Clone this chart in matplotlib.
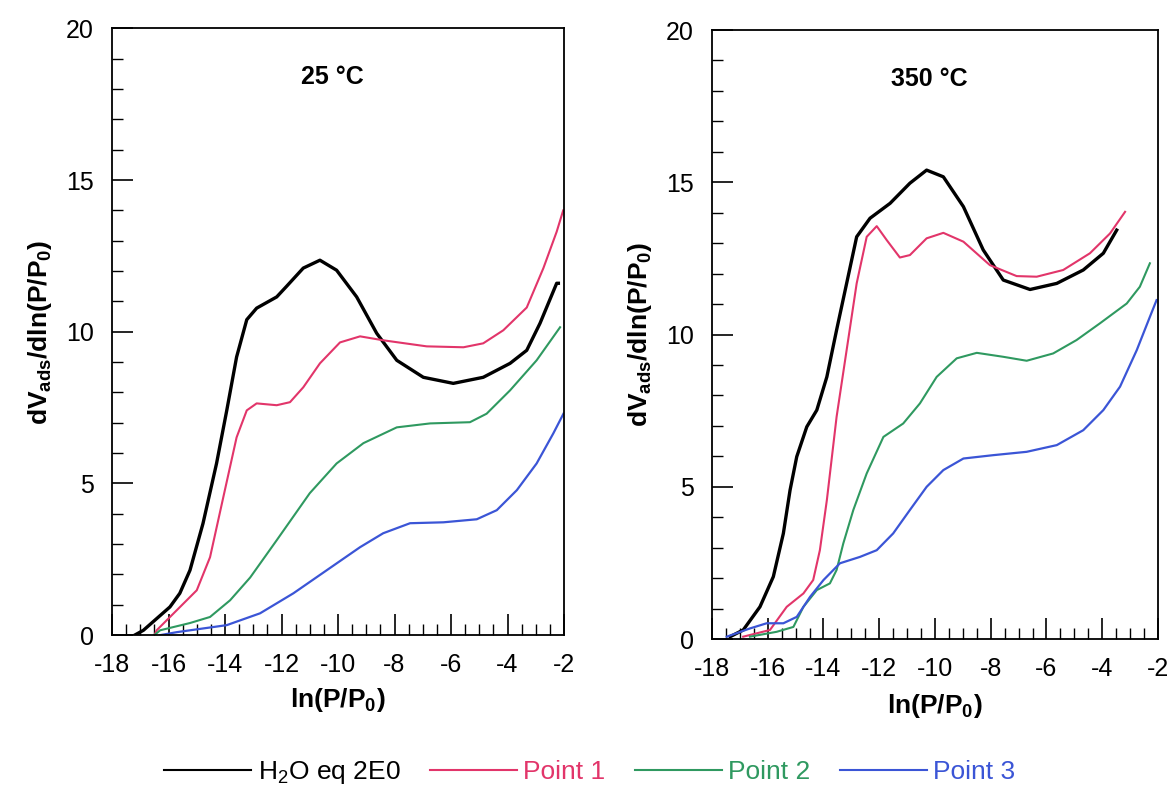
import matplotlib
matplotlib.use("Agg")
import matplotlib.pyplot as plt
from matplotlib.ticker import MultipleLocator

plt.rcParams['font.family'] = ['Liberation Sans', 'DejaVu Sans']
plt.rcParams['axes.unicode_minus'] = False
plt.rcParams['mathtext.fontset'] = 'custom'
plt.rcParams['mathtext.rm'] = 'Liberation Sans'
plt.rcParams['mathtext.bf'] = 'Liberation Sans:bold'

# ---- 25 C panel data ----
x25_h2o = [-17.2, -16.89, -15.95, -15.6, -15.24, -14.78, -14.3, -13.94, -13.59, -13.23, -12.88, -12.17, -11.82, -11.23, -10.64, -10.05, -9.34, -8.63, -7.92, -6.98, -5.92, -4.86, -3.91, -3.32, -2.85, -2.26, -2.2]
y25_h2o = [0.0, 0.16, 0.93, 1.38, 2.14, 3.68, 5.66, 7.4, 9.17, 10.4, 10.78, 11.15, 11.5, 12.1, 12.36, 12.03, 11.15, 9.95, 9.06, 8.5, 8.3, 8.5, 8.96, 9.39, 10.28, 11.6, 11.6]

x25_p1 = [-16.5, -16.42, -15.71, -15.0, -14.53, -14.06, -13.59, -13.23, -12.88, -12.17, -11.7, -11.23, -10.64, -9.93, -9.22, -8.4, -6.86, -5.56, -4.86, -4.15, -3.32, -2.73, -2.26, -2.03]
y25_p1 = [0.0, 0.16, 0.82, 1.48, 2.57, 4.55, 6.52, 7.41, 7.64, 7.58, 7.68, 8.17, 8.96, 9.65, 9.85, 9.72, 9.52, 9.49, 9.62, 10.05, 10.8, 12.1, 13.3, 14.0]

x25_p2 = [-16.5, -16.3, -15.24, -14.53, -13.82, -13.11, -12.17, -11.0, -10.05, -9.1, -7.92, -6.74, -5.33, -4.74, -3.91, -2.97, -2.14]
y25_p2 = [0.0, 0.16, 0.4, 0.6, 1.15, 1.9, 3.13, 4.68, 5.66, 6.33, 6.85, 6.98, 7.02, 7.3, 8.07, 9.06, 10.15]

x25_p3 = [-16.3, -15.7, -13.94, -12.76, -11.58, -10.4, -9.22, -8.4, -7.45, -6.27, -5.09, -4.38, -3.67, -2.97, -2.38, -2.02]
y25_p3 = [0.0, 0.1, 0.33, 0.72, 1.38, 2.14, 2.9, 3.36, 3.69, 3.72, 3.82, 4.12, 4.78, 5.66, 6.65, 7.3]

# ---- 350 C panel data ----
x350_h2o = [-17.35, -16.88, -16.28, -15.8, -15.44, -15.2, -14.96, -14.6, -14.24, -13.88, -13.53, -13.17, -12.81, -12.33, -11.61, -10.9, -10.3, -9.7, -8.98, -8.27, -7.55, -6.59, -5.63, -4.68, -3.96, -3.48]
y350_h2o = [0.08, 0.3, 1.06, 2.05, 3.47, 4.89, 5.99, 6.97, 7.52, 8.61, 10.15, 11.68, 13.21, 13.82, 14.31, 14.97, 15.4, 15.18, 14.2, 12.78, 11.79, 11.48, 11.68, 12.12, 12.67, 13.43]

x350_p1 = [-16.88, -15.92, -15.32, -14.72, -14.37, -14.13, -13.88, -13.53, -13.17, -12.81, -12.45, -12.09, -11.73, -11.26, -10.9, -10.3, -9.7, -8.98, -8.03, -7.07, -6.35, -5.4, -4.44, -3.72, -3.18]
y350_p1 = [0.08, 0.3, 1.06, 1.5, 1.94, 2.92, 4.56, 7.3, 9.49, 11.68, 13.21, 13.56, 13.1, 12.53, 12.61, 13.16, 13.34, 13.05, 12.28, 11.92, 11.9, 12.12, 12.67, 13.32, 14.03]

x350_p2 = [-16.64, -15.68, -15.08, -14.72, -14.24, -13.77, -13.53, -13.29, -12.93, -12.45, -11.85, -11.14, -10.54, -9.94, -9.22, -8.5, -7.55, -6.71, -5.76, -4.92, -4.08, -3.12, -2.65, -2.29]
y350_p2 = [0.08, 0.24, 0.4, 1.06, 1.61, 1.83, 2.27, 3.14, 4.24, 5.44, 6.64, 7.08, 7.74, 8.61, 9.22, 9.4, 9.27, 9.14, 9.38, 9.82, 10.37, 11.02, 11.57, 12.34]

x350_p3 = [-17.47, -16.64, -16.04, -15.44, -14.96, -14.48, -14.0, -13.41, -12.69, -12.09, -11.5, -10.9, -10.3, -9.7, -8.98, -7.91, -6.71, -5.63, -4.68, -3.96, -3.36, -2.76, -2.29, -2.05]
y350_p3 = [0.08, 0.35, 0.52, 0.52, 0.73, 1.39, 1.94, 2.49, 2.7, 2.92, 3.47, 4.24, 5.0, 5.55, 5.93, 6.04, 6.15, 6.37, 6.86, 7.52, 8.29, 9.49, 10.58, 11.13]

labels = ['H$_\\mathrm{2}$O eq 2E0', 'Point 1', 'Point 2', 'Point 3']
colors = ['black', '#e2356a', '#2f9960', '#3b55d6']
widths = [2.4, 1.5, 1.5, 1.6]

fig = plt.figure(figsize=(11.68, 7.9), dpi=100)
ax1 = fig.add_axes([0.0959, 0.196, 0.387, 0.768])
ax2 = fig.add_axes([0.6096, 0.191, 0.3818, 0.771])

panels = [
    (ax1, [(x25_h2o, y25_h2o), (x25_p1, y25_p1), (x25_p2, y25_p2), (x25_p3, y25_p3)], '25 °C', 6),
    (ax2, [(x350_h2o, y350_h2o), (x350_p1, y350_p1), (x350_p2, y350_p2), (x350_p3, y350_p3)], '350 °C', 8),
]

lines = []
for ax, series, title, xpad in panels:
    lines = []
    for (xs, ys), c, lw, lab in zip(series, colors, widths, labels):
        ln, = ax.plot(xs, ys, color=c, lw=lw, label=lab)
        lines.append(ln)
    ax.set_xlim(-18, -2)
    ax.set_ylim(0, 20)
    ax.xaxis.set_major_locator(MultipleLocator(2))
    ax.xaxis.set_minor_locator(MultipleLocator(0.5))
    ax.yaxis.set_major_locator(MultipleLocator(5))
    ax.yaxis.set_minor_locator(MultipleLocator(1))
    ax.tick_params(which='major', direction='in', length=15, width=1.2, labelsize=18, pad=13,
                   top=False, right=False)
    ax.tick_params(which='minor', direction='in', length=8, width=1.0, top=False, right=False)
    for s in ax.spines.values():
        s.set_linewidth(1.3)
    ax.set_xlabel('ln(P/P$_\\mathbf{0}$)', fontsize=19, fontweight='bold', labelpad=xpad)
    ax.set_ylabel('dV$_\\mathbf{ads}$/dln(P/P$_\\mathbf{0}$)', fontsize=19, fontweight='bold', labelpad=9)
    ax.text(-10.2, 18.4, title, fontsize=18, fontweight='bold', ha='center', va='center')

leg = fig.legend(lines, labels, loc='center', bbox_to_anchor=(0.505, 0.022), ncol=4,
                 frameon=False, fontsize=19, handlelength=3.3, columnspacing=1.1,
                 handletextpad=0.25)
for t, c in zip(leg.get_texts(), colors):
    t.set_color(c)
for h in leg.get_lines():
    h.set_linewidth(1.5)

fig.savefig('out.png', dpi=100)
